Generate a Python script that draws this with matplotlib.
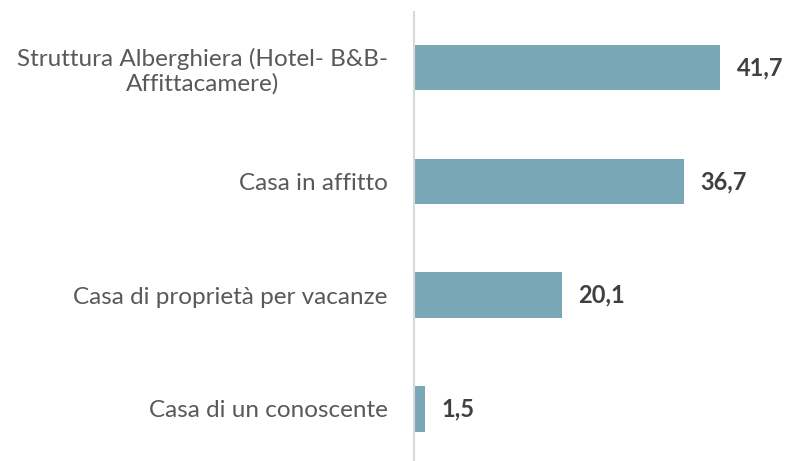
import matplotlib.pyplot as plt

categories = [
    'Struttura Alberghiera (Hotel- B&B-\nAffittacamere)',
    'Casa in affitto',
    'Casa di proprietà per vacanze',
    'Casa di un conoscente',
]
values = [41.7, 36.7, 20.1, 1.5]
value_labels = ['41,7', '36,7', '20,1', '1,5']

BAR_COLOR = '#79A7B5'
TEXT_COLOR = '#595959'
VALUE_COLOR = '#404040'

plt.rcParams['font.family'] = ['Lato', 'DejaVu Sans']

fig = plt.figure(figsize=(7.89, 4.61), dpi=100)
ax = fig.add_axes([414 / 789, 0.002, 1 - 414 / 789 - 0.005, 0.972])

y = list(range(len(categories)))
ax.barh(y, values, height=0.40, color=BAR_COLOR)

for yi, v, lab in zip(y, values, value_labels):
    ax.annotate(lab, (v, yi), xytext=(12, 0), textcoords='offset points',
                ha='left', va='center', fontsize=17, fontweight='bold',
                color=VALUE_COLOR)

ax.set_xlim(0, 50.5)
ax.set_ylim(3.45, -0.49)
ax.set_yticks(y)
ax.set_yticklabels(categories, fontsize=17.5, color=TEXT_COLOR,
                   multialignment='center', linespacing=1.15)
ax.tick_params(axis='y', length=0, pad=19)
ax.set_xticks([])

for side in ['top', 'right', 'bottom']:
    ax.spines[side].set_visible(False)
ax.spines['left'].set_color('#D9D9D9')
ax.spines['left'].set_linewidth(1.5)

fig.savefig('out.png', dpi=100, facecolor='white')
